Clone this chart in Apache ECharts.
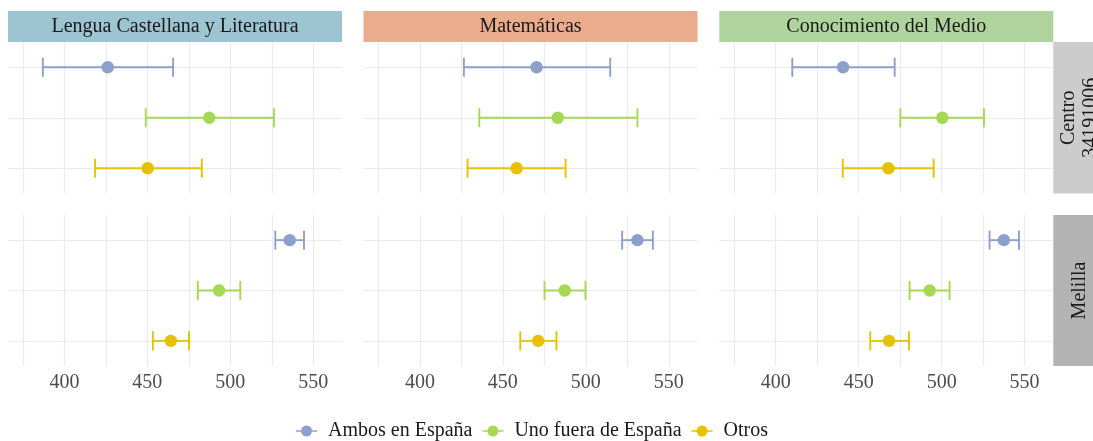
<!DOCTYPE html>
<html>
<head>
<meta charset="utf-8">
<script src="https://cdn.jsdelivr.net/npm/echarts@6/dist/echarts.min.js"></script>
<style>
html,body{margin:0;padding:0;background:#fff;}
#chart{width:1093px;height:441px;}
</style>
</head>
<body>
<div id="chart"></div>
<script>
// ---- data ----
const subjects = ['Lengua Castellana y Literatura', 'Matemáticas', 'Conocimiento del Medio'];
const centers = ['Centro\n34191006', 'Melilla'];
const groups = ['Ambos en España', 'Uno fuera de España', 'Otros'];
const tickValues = [375, 400, 425, 450, 475, 500, 525, 550];
const tickLabels = [400, 450, 500, 550];

// [subject][group]
const centroLow  = [[387.0, 449.0, 418.5], [426.5, 435.8, 428.7], [410.0, 475.1, 440.4]];
const centroMean = [[426.1, 487.3, 450.2], [470.3, 483.1, 458.3], [440.6, 500.4, 467.9]];
const centroHigh = [[465.5, 526.3, 482.8], [514.7, 531.1, 487.8], [471.7, 525.5, 495.2]];
const melillaLow  = [[527.1, 480.4, 453.3], [521.9, 475.1, 460.5], [528.9, 480.7, 457.0]];
const melillaMean = [[535.8, 493.2, 464.1], [531.1, 487.3, 471.3], [537.5, 492.8, 468.3]];
const melillaHigh = [[544.4, 506.0, 475.1], [540.4, 499.8, 482.3], [546.6, 504.8, 480.3]];

// ---- styling / layout ----
const groupColors = ['#8DA0CB', '#A6D854', '#E5C100'];
const headerColors = ['#9DC4D1', '#EBAB8D', '#AFD39C'];
const stripColors = ['#CCCCCC', '#B3B3B3'];
const FONT = '"Liberation Serif", "DejaVu Serif", serif';
const colLeft = [8, 363.5, 719.3];
const colWidth = 334;
const rowTop = [42, 215];
const rowHeight = [151.5, 151];
const xMin = 366, xMax = 567.3;

const lows = [centroLow, melillaLow];
const means = [centroMean, melillaMean];
const highs = [centroHigh, melillaHigh];

const grids = [], xAxes = [], yAxes = [], series = [];

function renderBar(params, api) {
  const yv = api.value(0);
  const lo = api.coord([api.value(1), yv]);
  const mid = api.coord([api.value(2), yv]);
  const hi = api.coord([api.value(3), yv]);
  const color = api.visual('color');
  const cap = 9.5;
  const ls = {stroke: color, lineWidth: 1.9};
  return {
    type: 'group',
    children: [
      {type: 'line', shape: {x1: lo[0], y1: lo[1], x2: hi[0], y2: hi[1]}, style: ls},
      {type: 'line', shape: {x1: lo[0], y1: lo[1] - cap, x2: lo[0], y2: lo[1] + cap}, style: ls},
      {type: 'line', shape: {x1: hi[0], y1: hi[1] - cap, x2: hi[0], y2: hi[1] + cap}, style: ls},
      {type: 'circle', shape: {cx: mid[0], cy: mid[1], r: 6.2}, style: {fill: color}}
    ]
  };
}

centers.forEach((c, r) => {
  subjects.forEach((s, k) => {
    const gi = r * 3 + k;
    grids.push({left: colLeft[k], top: rowTop[r], width: colWidth, height: rowHeight[r]});
    xAxes.push({
      type: 'value', gridIndex: gi, min: xMin, max: xMax,
      axisLine: {show: false},
      axisTick: {show: false, customValues: tickValues},
      axisLabel: {
        show: r === 1, customValues: tickLabels, margin: 7,
        color: '#4D4D4D', fontSize: 20, fontFamily: FONT
      },
      splitLine: {show: true, lineStyle: {color: '#EBEBEB', width: 1.2}}
    });
    yAxes.push({
      type: 'value', gridIndex: gi, min: 0.5, max: 3.5, inverse: true,
      axisLine: {show: false},
      axisTick: {show: false, customValues: [1, 2, 3]},
      axisLabel: {show: false},
      splitLine: {show: true, lineStyle: {color: '#EBEBEB', width: 1.2}}
    });
    groups.forEach((g, j) => {
      series.push({
        type: 'custom', name: g, xAxisIndex: gi, yAxisIndex: gi,
        itemStyle: {color: groupColors[j]},
        renderItem: renderBar,
        clip: false,
        data: [[j + 1, lows[r][k][j], means[r][k][j], highs[r][k][j]]]
      });
    });
  });
});

const graphics = [];
subjects.forEach((s, k) => {
  graphics.push({
    type: 'rect', shape: {x: colLeft[k], y: 11, width: colWidth, height: 31},
    style: {fill: headerColors[k]}, silent: true
  });
  graphics.push({
    type: 'text', x: colLeft[k] + colWidth / 2, y: 26.5,
    style: {text: s, font: '20px ' + FONT, fill: '#1A1A1A', align: 'center', verticalAlign: 'middle'},
    silent: true
  });
});
centers.forEach((c, r) => {
  graphics.push({
    type: 'rect', shape: {x: 1053.3, y: rowTop[r], width: 54, height: rowHeight[r]},
    style: {fill: stripColors[r]}, silent: true
  });
  graphics.push({
    type: 'text', x: 1080, y: rowTop[r] + rowHeight[r] / 2, rotation: Math.PI / 2,
    style: {text: c, font: '20px ' + FONT, fill: '#1A1A1A', align: 'center', verticalAlign: 'middle', lineHeight: 22},
    silent: true
  });
});

const legendIcon = 'path://M0,5.2H5.2V6.8H0Z M15.8,5.2H21V6.8H15.8Z M5,6A5.5,5.5 0 1 1 16,6A5.5,5.5 0 1 1 5,6Z';

const option = {
  animation: false,
  backgroundColor: '#FFFFFF',
  grid: grids,
  xAxis: xAxes,
  yAxis: yAxes,
  series: series,
  graphic: graphics,
  legend: {
    data: groups.map(n => ({name: n, icon: legendIcon})),
    left: 296, top: 421, padding: 0,
    itemWidth: 21, itemHeight: 11, itemGap: 10,
    selectedMode: false,
    textStyle: {fontFamily: FONT, fontSize: 20, color: '#1A1A1A', padding: [0, 0, 0, 6]}
  }
};

const chart = echarts.init(document.getElementById('chart'), null, {renderer: 'canvas'});
chart.setOption(option);
</script>
</body>
</html>
